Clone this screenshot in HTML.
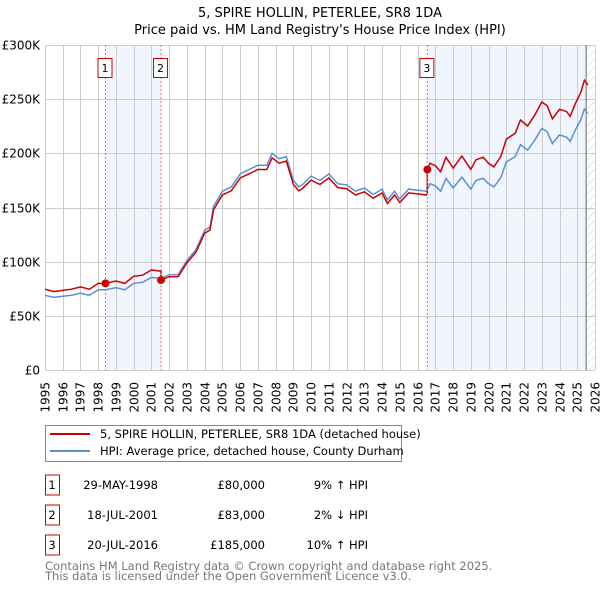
<!DOCTYPE html>
<html><head><meta charset="utf-8"><style>
body{margin:0;background:#fff}
svg{display:block;font-family:"DejaVu Sans","Liberation Sans",sans-serif}
</style></head><body>
<svg id="c" width="600" height="590" viewBox="0 0 600 590">
<text x="320" y="17" text-anchor="middle" font-size="13">5, SPIRE HOLLIN, PETERLEE, SR8 1DA</text>
<text x="320" y="34" text-anchor="middle" font-size="13">Price paid vs. HM Land Registry's House Price Index (HPI)</text>
<defs><pattern id="hatch" width="6" height="6" patternUnits="userSpaceOnUse" patternTransform="rotate(45)"><line x1="0" y1="0" x2="0" y2="6" stroke="#ccc" stroke-width="1"/></pattern></defs>
<g id="grid"></g>
<g id="marks"></g>
<g id="legend">
<rect x="45.5" y="425.5" width="356" height="36" fill="#fff" stroke="#888"/>
<line x1="50" y1="434" x2="90" y2="434" stroke="#cc0000" stroke-width="2"/>
<text x="100" y="438" font-size="11.5">5, SPIRE HOLLIN, PETERLEE, SR8 1DA (detached house)</text>
<line x1="50" y1="451" x2="90" y2="451" stroke="#5b8fd4" stroke-width="2"/>
<text x="100" y="455" font-size="11.5">HPI: Average price, detached house, County Durham</text>
</g>
<g id="table" font-size="11.5"></g>
<text x="45" y="570" font-size="11.5" fill="#777">Contains HM Land Registry data © Crown copyright and database right 2025.</text>
<text x="45" y="580" font-size="11.5" fill="#777">This data is licensed under the Open Government Licence v3.0.</text>
</svg>
<script>
const hpiYears=[1995,1995.5,1996,1996.5,1997,1997.5,1998,1998.4,1999,1999.5,2000,2000.5,2001,2001.5,2002,2002.5,2003,2003.5,2004,2004.3,2004.5,2005,2005.5,2006,2006.5,2007,2007.5,2007.8,2008.2,2008.6,2009,2009.3,2009.5,2010,2010.5,2011,2011.5,2012,2012.5,2013,2013.5,2014,2014.3,2014.7,2015,2015.5,2016,2016.5,2016.7,2017,2017.3,2017.6,2018,2018.5,2019,2019.3,2019.7,2020,2020.3,2020.7,2021,2021.5,2021.8,2022.2,2022.6,2023,2023.3,2023.6,2024,2024.4,2024.6,2024.9,2025.2,2025.4,2025.6];
const hpiValues=[69,67,68,69,71,69,74,74,76,74,80,81,85.5,84.5,88,88,101,111,129,132,151,165,169,181,185,189,189,200,195,197,175,169,171,179,175,181,172,171,165,168,162,167,157,165,158,167,166,165,172,170,165,177,168,178,167,175,177,172,169,178,192,197,208,203,212,223,220,209,217,215,211,222,231,241,237];
const saleDates=[1998.41,2001.54,2016.55];
const salePrices=[80,83,185];
const saleLabels=["1","2","3"];
const saleDateText=["29-MAY-1998","18-JUL-2001","20-JUL-2016"];
const salePriceText=["£80,000","£83,000","£185,000"];
const saleDiffText=["9% ↑ HPI","2% ↓ HPI","10% ↑ HPI"];
const yTicks=[0,50,100,150,200,250,300];
const yTickLabels=["£0","£50K","£100K","£150K","£200K","£250K","£300K"];
const xTicks=[1995,1996,1997,1998,1999,2000,2001,2002,2003,2004,2005,2006,2007,2008,2009,2010,2011,2012,2013,2014,2015,2016,2017,2018,2019,2020,2021,2022,2023,2024,2025,2026];
const dataEnd=2025.5;

const X0=45,X1=595,Y0=370,Y1=45;
const xs=t=>X0+(t-1995)/(2026-1995)*(X1-X0);
const ys=v=>Y0-v/300*(Y0-Y1);
const NS="http://www.w3.org/2000/svg";
function mk(tag,attrs,parent){const e=document.createElementNS(NS,tag);for(const k in attrs)e.setAttribute(k,attrs[k]);parent.appendChild(e);return e;}
const grid=document.getElementById('grid'),marks=document.getElementById('marks'),table=document.getElementById('table');
function hpiAt(t){for(let i=0;i<hpiYears.length-1;i++){if(t>=hpiYears[i]&&t<=hpiYears[i+1]){const f=(t-hpiYears[i])/(hpiYears[i+1]-hpiYears[i]);return hpiValues[i]+f*(hpiValues[i+1]-hpiValues[i]);}}return hpiValues[hpiValues.length-1];}

let b=mk('rect',{x:xs(saleDates[0]),y:Y1,width:xs(saleDates[1])-xs(saleDates[0]),height:Y0-Y1,fill:'#eef3fc',opacity:0.8},grid);


b=mk('rect',{x:xs(saleDates[2]),y:Y1,width:xs(dataEnd)-xs(saleDates[2]),height:Y0-Y1,fill:'#eef3fc',opacity:0.8},grid);


b=mk('rect',{x:xs(dataEnd),y:Y1,width:X1-xs(dataEnd),height:Y0-Y1,fill:'url(#hatch)'},grid);


xTicks.forEach(t=>{const x=Math.round(xs(t))+0.5;
 const l=mk('line',{x1:x,y1:Y1,x2:x,y2:Y0,stroke:'#ccc'},grid);
 
 
 const tx=mk('text',{x:0,y:0,transform:`translate(${x+4},382) rotate(-90)`,'text-anchor':'end','font-size':12},grid);
 tx.textContent=t;
 
 
});
yTicks.forEach((v,i)=>{const y=Math.round(ys(v))+0.5;
 const l=mk('line',{x1:X0,y1:y,x2:X1,y2:y,stroke:'#ccc'},grid);
 
 
 const tx=mk('text',{x:40,y:y+4,'text-anchor':'end','font-size':12},grid);
 tx.textContent=yTickLabels[i];
 
 
});
let el=mk('line',{x1:xs(dataEnd),y1:Y1,x2:xs(dataEnd),y2:Y0,stroke:'#666'},grid);



let d=hpiYears.map((t,i)=>(i?'L':'M')+xs(t).toFixed(1)+','+ys(hpiValues[i]).toFixed(1)).join('');
el=mk('path',{d:d,fill:'none',stroke:'#5b8fd4','stroke-width':1.5},marks);


const ratios=saleDates.map((t,i)=>salePrices[i]/hpiAt(t));
function ratioAt(t){let r=ratios[0];for(let i=0;i<saleDates.length;i++)if(t>=saleDates[i])r=ratios[i];return r;}
let pts=[];
hpiYears.forEach((t,i)=>{saleDates.forEach((s,j)=>{if(i>0&&s>hpiYears[i-1]&&s<=t){const h=hpiAt(s);pts.push([s,h*(j?ratios[j-1]:ratios[0])]);pts.push([s,salePrices[j]]);}});pts.push([t,hpiValues[i]*ratioAt(t)]);});
d=pts.map((p,i)=>(i?'L':'M')+xs(p[0]).toFixed(1)+','+ys(p[1]).toFixed(1)).join('');
el=mk('path',{d:d,fill:'none',stroke:'#cc0000','stroke-width':1.5},marks);


saleDates.forEach((t,i)=>{const x=xs(t);
 const l=mk('line',{x1:x,y1:Y1,x2:x,y2:Y0,stroke:'#ff6666','stroke-dasharray':'2,2'},marks);
 
 
 const c=mk('circle',{cx:x,cy:ys(salePrices[i]),r:4,fill:'#cc0000'},marks);
 
 
 const r=mk('rect',{x:x-7.5,y:58.5,width:14,height:19,fill:'#fff',stroke:'#cc0000'},marks);
 
 
 const tx=mk('text',{x:x-0.5,y:72,'text-anchor':'middle','font-size':11},marks);
 tx.textContent=saleLabels[i];
 
 
 const cy=485+i*30;
 const rb=mk('rect',{x:45.5,y:cy-10,width:14,height:20,fill:'#fff',stroke:'#cc0000'},table);
 
 
 const cells=[[52,'middle',saleLabels[i],'table-row-number'],[158,'end',saleDateText[i],'table-row-date'],[265,'end',salePriceText[i],'table-row-price'],[368,'end',saleDiffText[i],'table-row-hpi-diff']];
 cells.forEach(cl=>{const t2=mk('text',{x:cl[0],y:cy+4,'text-anchor':cl[1]},table);t2.textContent=cl[2];
  
  });
});
</script>
</body></html>
